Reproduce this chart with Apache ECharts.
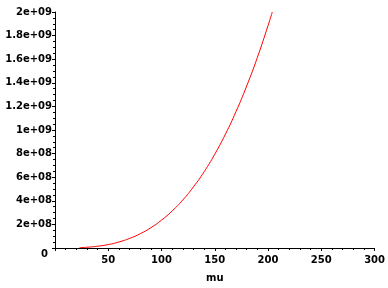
<!DOCTYPE html>
<html><head><meta charset="utf-8">
<script src="https://cdn.jsdelivr.net/npm/echarts@6/dist/echarts.min.js"></script>
<style>html,body{margin:0;padding:0;background:#fff}#c{width:388px;height:288px}</style>
</head><body><div id="c"></div>
<script>
// values
const mu = [23, 30, 40, 50, 60, 70, 80, 90, 100, 110, 120, 130, 140, 150, 160, 170, 180, 190, 200, 204];
const values = [2.9e6, 6.4e6, 1.5e7, 2.9e7, 5.1e7, 8.1e7, 1.21e8, 1.72e8, 2.36e8, 3.14e8, 4.07e8, 5.18e8, 6.46e8, 7.95e8, 9.65e8, 1.157e9, 1.374e9, 1.615e9, 1.885e9, 2.0e9];
const xTickLabels = ['', '50', '100', '150', '200', '250', '300'];
const yTickLabels = ['0', '2e+08', '4e+08', '6e+08', '8e+08', '1e+09', '1.2e+09', '1.4e+09', '1.6e+09', '1.8e+09', '2e+09'];

const chart = echarts.init(document.getElementById('c'));
const lab = {color:'#000', fontFamily:'DejaVu Sans', fontWeight:'bold', fontSize:10};
chart.setOption({
  animation:false,
  grid:{left:55, right:13, top:12, bottom:40},
  xAxis:{type:'value', min:0, max:300, interval:50, name:'mu', nameLocation:'middle', nameGap:25,
    nameTextStyle:Object.assign({}, lab),
    axisLine:{lineStyle:{color:'#000', width:1}},
    axisTick:{show:true, length:3, lineStyle:{color:'#000'}},
    minorTick:{show:true, splitNumber:5, length:2, lineStyle:{color:'#000'}},
    splitLine:{show:false},
    axisLabel:Object.assign({margin:7, formatter:(v)=>xTickLabels[Math.round(v/50)]}, lab)},
  yAxis:{type:'value', min:0, max:2e9, interval:2e8,
    axisLine:{show:true, lineStyle:{color:'#000', width:1}},
    axisTick:{show:true, length:3, lineStyle:{color:'#000'}},
    minorTick:{show:true, splitNumber:4, length:2, lineStyle:{color:'#000'}},
    splitLine:{show:false},
    axisLabel:Object.assign({margin:3, formatter:(v)=>{const i=Math.round(v/2e8); return i===0?'{z|0}':yTickLabels[i];},
      rich:{z:Object.assign({padding:[12,4,0,0]}, lab)}}, lab)},
  series:[{type:'line', data:mu.map((m,i)=>[m, values[i]]), showSymbol:false, smooth:true,
    lineStyle:{color:'#ff0000', width:1}, itemStyle:{color:'#ff0000'}}]
});
</script></body></html>
